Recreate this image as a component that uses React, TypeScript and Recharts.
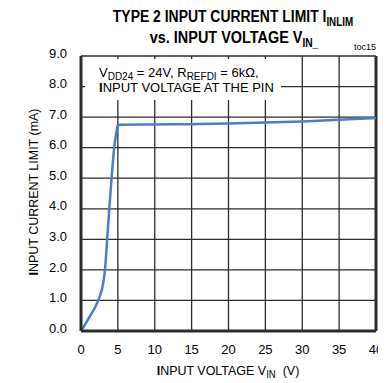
import { LineChart, Line, XAxis, YAxis, CartesianGrid, ReferenceLine } from 'recharts';

const vin = [0, 1, 2, 2.5, 3, 3.25, 3.55, 3.83, 4.15, 4.5, 4.8, 4.97, 5.3, 10, 15, 20, 25, 30, 35, 40];
const current = [0, 0.4, 0.82, 1.1, 1.55, 2.0, 3.0, 4.0, 5.0, 6.0, 6.5, 6.73, 6.75, 6.76, 6.77, 6.79, 6.82, 6.86, 6.91, 6.97];
const xTicks = [0, 5, 10, 15, 20, 25, 30, 35, 40];
const yTicks = [0, 1, 2, 3, 4, 5, 6, 7, 8, 9];

const data = vin.map((v, i) => ({ vin: v, current: current[i] }));

const FONT = '"Liberation Sans", Arial, sans-serif';
const INK = '#2b2b2b';

export default function App() {
  return (
    <div style={{ width: 386, height: 383, margin: -8 }}>
      <LineChart width={386} height={383} data={data} margin={{ top: 56, right: 10, bottom: 0, left: 0 }}>
        <CartesianGrid stroke={INK} strokeWidth={1.3} />
        <XAxis
          dataKey="vin"
          type="number"
          domain={[0, 40]}
          ticks={xTicks}
          tickSize={12}
          tickLine={{ stroke: 'transparent' }}
          axisLine={{ stroke: INK, strokeWidth: 3 }}
          tick={{ fontSize: 13, fill: '#000', fontFamily: FONT }}
          height={52}
        />
        <YAxis
          type="number"
          domain={[0, 9]}
          ticks={yTicks}
          tickSize={12}
          tickLine={{ stroke: 'transparent' }}
          axisLine={{ stroke: INK, strokeWidth: 3 }}
          tick={{ fontSize: 13, fill: '#000', fontFamily: FONT, dy: -3 }}
          tickFormatter={(v) => v.toFixed(1)}
          width={81}
        />
        <ReferenceLine x={40} stroke={INK} strokeWidth={3} />
        <Line
          type="monotone"
          dataKey="current"
          stroke="#4a7fc1"
          strokeWidth={2.5}
          dot={false}
          isAnimationActive={false}
        />
      </LineChart>
      <svg
        width={386}
        height={383}
        style={{ position: 'absolute', left: 0, top: 0, pointerEvents: 'none' }}
        fontFamily={FONT}
      >
        <g transform="translate(233 22) scale(0.82 1)">
          <text x={0} y={0} textAnchor="middle" fontSize={17} fontWeight="bold">
            TYPE 2 INPUT CURRENT LIMIT I<tspan fontSize={12} dy={4}>INLIM</tspan>
          </text>
        </g>
        <g transform="translate(234 43) scale(0.85 1)">
          <text x={0} y={0} textAnchor="middle" fontSize={17} fontWeight="bold">
            vs. INPUT VOLTAGE V<tspan fontSize={12} dy={4}>IN_</tspan>
          </text>
        </g>
        <text x={376} y={50} textAnchor="end" fontSize={9}>toc15</text>
        <rect x={85} y={59} width={196} height={41} fill="#fff" />
        <text x={99} y={77} fontSize={13}>
          V<tspan fontSize={10} dy={3}>DD24</tspan>
          <tspan dy={-3}> = 24V, R</tspan>
          <tspan fontSize={10} dy={3}>REFDI</tspan>
          <tspan dy={-3}> = 6kΩ,</tspan>
        </text>
        <text x={99} y={92} fontSize={13}>
          <tspan fontWeight="bold">I</tspan>NPUT VOLTAGE AT THE PIN
        </text>
        <g transform="translate(228 375) scale(0.96 1)">
          <text x={0} y={0} textAnchor="middle" fontSize={13}>
            <tspan fontWeight="bold">I</tspan>NPUT VOLTAGE V<tspan fontSize={10} dy={3}>IN</tspan>
            <tspan dy={-3}>{'\u00a0\u00a0(V)'}</tspan>
          </text>
        </g>
        <g transform="translate(38 192) rotate(-90) scale(0.96 1)">
          <text x={0} y={0} textAnchor="middle" fontSize={13}>
            <tspan fontWeight="bold">I</tspan>NPUT CURRENT LIMIT (mA)
          </text>
        </g>
      </svg>
    </div>
  );
}
